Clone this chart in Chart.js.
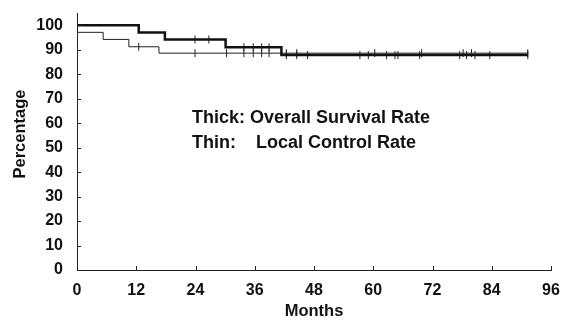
<!DOCTYPE html>
<html>
<head>
<meta charset="utf-8">
<script src="https://cdn.jsdelivr.net/npm/chart.js@4/dist/chart.umd.min.js"></script>
<style>
  html, body { margin: 0; padding: 0; background: #fff; }
  #wrap { width: 562px; height: 324px; }
</style>
</head>
<body>
<div id="wrap"><canvas id="canvas"></canvas></div>
<script>
// Overall survival (thick), Kaplan-Meier steps
const osMonths = [0, 12.5, 17.8, 30.1, 41.4, 91.3];
const osRates = [100, 97.0, 94.2, 91.0, 87.8, 87.8];
const osCensorMonths = [23.9, 26.7, 33.8, 35.7, 37.4, 38.9, 42.4, 44.5, 46.7, 57.3, 59, 62.7, 64.4, 65, 69.4, 77.5, 78.9, 80.6, 83.6, 91.3];
const osCensorRates = [94.2, 94.2, 91.0, 91.0, 91.0, 91.0, 87.8, 87.8, 87.8, 87.8, 87.8, 87.8, 87.8, 87.8, 87.8, 87.8, 87.8, 87.8, 87.8, 87.8];

// Local control (thin)
const lcMonths = [0, 5.3, 10.5, 16.6, 91.3];
const lcRates = [97.1, 94.2, 91.2, 88.6, 88.6];
const lcCensorMonths = [12.5, 23.9, 30.3, 33.8, 35.7, 37.4, 38.9, 42.4, 44.5, 60.3, 69.8, 78.2, 79.9, 91.3];
const lcCensorRates = [91.2, 88.6, 88.6, 88.6, 88.6, 88.6, 88.6, 88.6, 88.6, 88.6, 88.6, 88.6, 88.6, 88.6];

const xTicks = [0, 12, 24, 36, 48, 60, 72, 84, 96];
const yTicks = [0, 10, 20, 30, 40, 50, 60, 70, 80, 90, 100];

const FONT = "'Liberation Sans', Arial, sans-serif";

const pts = (xs, ys) => xs.map((x, i) => ({ x: x, y: ys[i] }));

const extras = {
  id: "extras",
  afterDraw: (chart) => {
    const ctx = chart.ctx;
    const xs = chart.scales.x;
    const ys = chart.scales.y;
    ctx.save();
    // small inward tick marks
    ctx.strokeStyle = "#222";
    ctx.lineWidth = 1;
    ctx.beginPath();
    xTicks.forEach((v) => {
      const px = Math.round(xs.getPixelForValue(v)) + 0.5;
      ctx.moveTo(px, ys.bottom);
      ctx.lineTo(px, ys.bottom - 4);
    });
    yTicks.forEach((v) => {
      const py = Math.round(ys.getPixelForValue(v)) + 0.5;
      ctx.moveTo(xs.left, py);
      ctx.lineTo(xs.left + 4, py);
    });
    ctx.stroke();

    ctx.fillStyle = "#111";
    ctx.textBaseline = "middle";

    // axis titles
    ctx.font = "bold 16.5px " + FONT;
    ctx.textAlign = "center";
    ctx.fillText("Months", 314, 311);
    ctx.save();
    ctx.translate(20, 134);
    ctx.rotate(-Math.PI / 2);
    ctx.fillText("Percentage", 0, 0);
    ctx.restore();

    // legend text
    ctx.font = "bold 18px " + FONT;
    ctx.textAlign = "left";
    ctx.fillText("Thick: Overall Survival Rate", 192, 118);
    ctx.fillText("Thin:", 192, 143);
    ctx.fillText("Local Control Rate", 256, 143);
    ctx.restore();
  }
};

const chart = new Chart(document.getElementById("canvas"), {
  type: "scatter",
  data: {
    datasets: [
      {
        label: "Overall Survival",
        data: pts(osMonths, osRates),
        showLine: true,
        stepped: true,
        borderColor: "#111",
        borderWidth: 2.5,
        pointRadius: 0
      },
      {
        label: "Local Control",
        data: pts(lcMonths, lcRates),
        showLine: true,
        stepped: true,
        borderColor: "#222",
        borderWidth: 1,
        pointRadius: 0
      },
      {
        label: "OS censored",
        data: pts(osCensorMonths, osCensorRates),
        showLine: false,
        pointStyle: "line",
        rotation: 90,
        pointRadius: 4,
        pointBorderWidth: 1,
        borderColor: "#222"
      },
      {
        label: "LC censored",
        data: pts(lcCensorMonths, lcCensorRates),
        showLine: false,
        pointStyle: "line",
        rotation: 90,
        pointRadius: 4,
        pointBorderWidth: 1,
        borderColor: "#222"
      }
    ]
  },
  options: {
    responsive: true,
    maintainAspectRatio: false,
    animation: false,
    layout: { padding: { top: 13, right: 11, left: 0, bottom: 0 } },
    plugins: {
      legend: { display: false },
      tooltip: { enabled: false }
    },
    scales: {
      x: {
        type: "linear",
        min: 0,
        max: 96,
        afterBuildTicks: (s) => { s.ticks = xTicks.map((v) => ({ value: v })); },
        afterFit: (s) => {
          s.height = 54;
          s.paddingLeft = 0;
          s.paddingRight = 0;
        },
        grid: { display: false, drawTicks: false },
        border: { display: true, color: "#222", width: 1 },
        ticks: {
          color: "#111",
          padding: 11,
          font: { family: FONT, size: 16, weight: "bold" }
        }
      },
      y: {
        type: "linear",
        min: 0,
        max: 105,
        afterBuildTicks: (s) => { s.ticks = yTicks.map((v) => ({ value: v })); },
        afterFit: (s) => {
          s.width = 77;
          s.paddingTop = 0;
          s.paddingBottom = 0;
        },
        grid: { display: false, drawTicks: false },
        border: { display: true, color: "#222", width: 1 },
        ticks: {
          color: "#111",
          padding: 14,
          font: { family: FONT, size: 16, weight: "bold" }
        }
      }
    }
  },
  plugins: [extras]
});
</script>
</body>
</html>
